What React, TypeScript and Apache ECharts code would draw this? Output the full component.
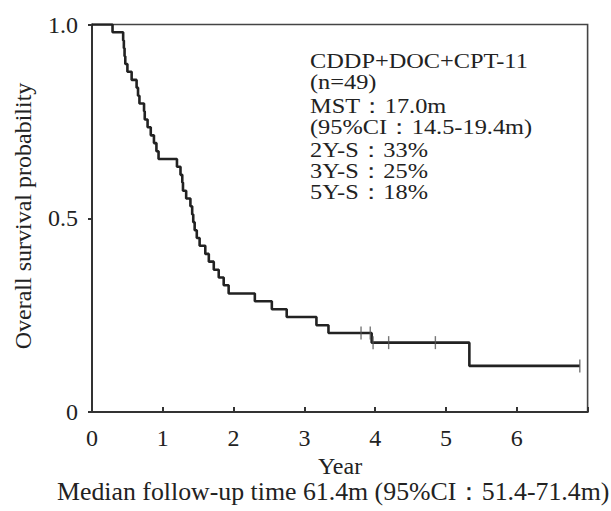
import React, { useEffect, useRef } from "react";
import * as echarts from "echarts";

// Kaplan-Meier step points (years, survival probability)
const timesYears = [
  0, 0.29, 0.44, 0.45, 0.46, 0.47, 0.5, 0.56, 0.63, 0.65, 0.67, 0.735, 0.745,
  0.785, 0.83, 0.875, 0.91, 0.94, 1.2, 1.25, 1.275, 1.285, 1.33, 1.39, 1.415,
  1.43, 1.45, 1.48, 1.52, 1.6, 1.65, 1.72, 1.79, 1.86, 1.93, 2.3, 2.54, 2.75,
  3.17, 3.34, 3.95, 5.33, 6.89,
];
const survival = [
  1.0, 0.98, 0.959, 0.939, 0.918, 0.898, 0.878, 0.857, 0.837, 0.816, 0.796,
  0.776, 0.755, 0.735, 0.714, 0.694, 0.673, 0.653, 0.633, 0.612, 0.592, 0.571,
  0.551, 0.531, 0.51, 0.49, 0.469, 0.449, 0.429, 0.408, 0.388, 0.367, 0.347,
  0.327, 0.306, 0.286, 0.265, 0.245, 0.224, 0.204, 0.179, 0.119, 0.119,
];
// censored observations
const censorTimes = [3.8, 3.93, 3.97, 4.19, 4.85, 6.89];
const censorSurvival = [0.204, 0.204, 0.179, 0.179, 0.179, 0.119];

const xTickLabels = ["0", "1", "2", "3", "4", "5", "6"];
const yTickLabels: Record<string, string> = { "0": "0", "0.5": "0.5", "1": "1.0" };

const annotationLines = [
  "CDDP+DOC+CPT-11",
  "(n=49)",
  "MST：17.0m",
  "(95%CI：14.5-19.4m)",
  "2Y-S：33%",
  "3Y-S：25%",
  "5Y-S：18%",
];
const annotationY = [61, 82, 106, 127, 150, 171, 192];

const xTitle = "Year";
const yTitle = "Overall survival probability";
const footnote = "Median follow-up time 61.4m (95%CI：51.4-71.4m)";

const FONT = "'Liberation Serif', 'Times New Roman', serif";
const INK = "#222";

export default function App() {
  const ref = useRef<HTMLDivElement>(null);
  useEffect(() => {
    if (!ref.current) return;
    const chart = echarts.init(ref.current, undefined, { renderer: "svg" });
    const line = timesYears.map((t, i) => [t, survival[i]]);
    const cens = censorTimes.map((t, i) => [t, censorSurvival[i]]);
    const graphic: any[] = annotationLines.map((txt, i) => ({
      type: "text",
      x: 310,
      y: annotationY[i],
      scaleX: 1.16,
      style: {
        text: txt,
        fontSize: 21,
        lineHeight: 18,
        fontFamily: FONT,
        fill: INK,
        align: "left",
        verticalAlign: "middle",
      },
    }));
    graphic.push({
      type: "text",
      x: 340,
      y: 466,
      style: { text: xTitle, fontSize: 24, lineHeight: 22, fontFamily: FONT, fill: INK, align: "center", verticalAlign: "middle" },
    });
    graphic.push({
      type: "text",
      x: 57,
      y: 491,
      scaleX: 1.033,
      style: { text: footnote, fontSize: 25, lineHeight: 22, fontFamily: FONT, fill: INK, align: "left", verticalAlign: "middle" },
    });
    graphic.push({
      type: "text",
      x: 23,
      y: 216,
      rotation: Math.PI / 2,
      style: { text: yTitle, fontSize: 24, fontFamily: FONT, fill: INK, align: "center", verticalAlign: "middle" },
    });

    chart.setOption({
      animation: false,
      backgroundColor: "#fff",
      grid: {
        left: 92,
        top: 24.5,
        width: 495.6,
        height: 387.5,
        show: true,
        borderColor: "#444",
        borderWidth: 1.6,
        backgroundColor: "transparent",
      },
      xAxis: {
        type: "value",
        min: 0,
        max: 7,
        interval: 1,
        axisLine: { show: true, lineStyle: { color: "#333", width: 2 } },
        axisTick: { show: true, inside: true, length: 5, lineStyle: { color: "#333", width: 2 } },
        axisLabel: {
          margin: 14,
          fontSize: 24,
          fontFamily: FONT,
          color: INK,
          formatter: (v: number) => (xTickLabels[v] !== undefined ? xTickLabels[v] : ""),
        },
        splitLine: { show: false },
      },
      yAxis: {
        type: "value",
        min: 0,
        max: 1,
        interval: 0.5,
        axisLine: { show: true, lineStyle: { color: "#333", width: 2 } },
        axisTick: { show: true, inside: false, length: 4, lineStyle: { color: "#333", width: 2 } },
        axisLabel: {
          margin: 14,
          fontSize: 24,
          fontFamily: FONT,
          color: INK,
          formatter: (v: number) => yTickLabels[String(v)] ?? "",
        },
        splitLine: { show: false },
      },
      series: [
        {
          type: "line",
          data: line,
          step: "end",
          symbol: "none",
          lineStyle: { color: INK, width: 2.6 },
          z: 3,
        },
        {
          type: "scatter",
          data: cens,
          symbol: "rect",
          symbolSize: [1.4, 13],
          itemStyle: { color: "#555" },
          z: 4,
        },
      ],
      graphic,
    });
    return () => chart.dispose();
  }, []);
  return (
    <div
      ref={ref}
      style={{ position: "absolute", left: 0, top: 0, width: 611, height: 511 }}
    />
  );
}
